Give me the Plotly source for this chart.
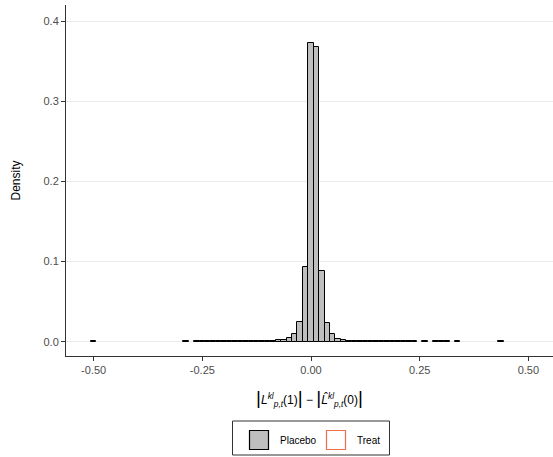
import plotly.graph_objects as go

# Histogram bins (bin width 0.0125) and relative frequencies
bin_centers = [-0.5, -0.2875,
               -0.2625, -0.25, -0.2375, -0.225, -0.2125, -0.2, -0.1875, -0.175, -0.1625, -0.15,
               -0.1375, -0.125, -0.1125, -0.1, -0.0875, -0.075, -0.0625, -0.05, -0.0375, -0.025,
               -0.0125, 0.0, 0.0125, 0.025, 0.0375, 0.05, 0.0625, 0.075, 0.0875, 0.1,
               0.1125, 0.125, 0.1375, 0.15, 0.1625, 0.175, 0.1875, 0.2, 0.2125, 0.225, 0.2375,
               0.2625, 0.2875, 0.3, 0.3125, 0.3375, 0.4375]
placebo_density = [0.0003, 0.0003,
                   0.0003, 0.0003, 0.0003, 0.0003, 0.0004, 0.0004, 0.0004, 0.0004, 0.0005, 0.0005,
                   0.0006, 0.0006, 0.0007, 0.0008, 0.0011, 0.0016, 0.0026, 0.0042, 0.0096, 0.024,
                   0.093, 0.373, 0.367, 0.088, 0.023, 0.0092, 0.0031, 0.0018, 0.0012, 0.0009,
                   0.0008, 0.0007, 0.0006, 0.0006, 0.0005, 0.0005, 0.0004, 0.0004, 0.0004, 0.0003, 0.0003,
                   0.0003, 0.0003, 0.0003, 0.0003, 0.0003, 0.0003]
treat_centers = []
treat_density = []
bin_width = 0.0125

series_names = ["Placebo", "Treat"]
x_ticks = [-0.5, -0.25, 0.0, 0.25, 0.5]
x_tick_labels = ["-0.50", "-0.25", "0.00", "0.25", "0.50"]
y_ticks = [0.0, 0.1, 0.2, 0.3, 0.4]
y_tick_labels = ["0.0", "0.1", "0.2", "0.3", "0.4"]

FILL = "#bebebe"
TREAT = "#f26b4f"
FONT = "Liberation Sans, Arial, sans-serif"

fig = go.Figure()
fig.add_trace(go.Bar(x=bin_centers, y=placebo_density, width=bin_width, name=series_names[0],
                     marker=dict(color=FILL, line=dict(color="black", width=1)),
                     showlegend=False))
fig.add_trace(go.Bar(x=treat_centers, y=treat_density, width=bin_width, name=series_names[1],
                     marker=dict(color="rgba(0,0,0,0)", line=dict(color=TREAT, width=1)),
                     showlegend=False))

L, R, T, B = 66, 0, 5, 101
W, H = 553, 457
pw, ph = W - L - R, H - T - B

def px_x(p):
    return (p - L) / pw

def px_y(p):
    return (H - B - p) / ph

shapes = []
annotations = []
# manual legend box
shapes.append(dict(type="rect", xref="paper", yref="paper",
                   x0=px_x(232.5), x1=px_x(389.5), y0=px_y(455), y1=px_y(421),
                   line=dict(color="#333333", width=1), fillcolor="white"))
shapes.append(dict(type="rect", xref="paper", yref="paper",
                   x0=px_x(249.5), x1=px_x(268.5), y0=px_y(449.5), y1=px_y(430.5),
                   line=dict(color="black", width=1.2), fillcolor=FILL))
shapes.append(dict(type="rect", xref="paper", yref="paper",
                   x0=px_x(326.5), x1=px_x(345.5), y0=px_y(449.5), y1=px_y(430.5),
                   line=dict(color=TREAT, width=1.2), fillcolor="white"))
annotations.append(dict(text=series_names[0], xref="paper", yref="paper", x=px_x(277.5), y=px_y(441),
                        xanchor="left", yanchor="middle", showarrow=False,
                        font=dict(family=FONT, size=10, color="black")))
annotations.append(dict(text=series_names[1], xref="paper", yref="paper", x=px_x(354.5), y=px_y(441),
                        xanchor="left", yanchor="middle", showarrow=False,
                        font=dict(family=FONT, size=10, color="black")))

big = '<span style="font-size:19px">|</span>'
xtitle = (big + "<i>L</i><sup><i>kl</i></sup><sub><i>p,t</i></sub>(1)" + big + " − " + big +
          "<i>L̂</i><sup><i>kl</i></sup><sub><i>p,t</i></sub>(0)" + big)

fig.update_layout(
    width=W, height=H,
    margin=dict(l=L, r=R, t=T, b=B, pad=0),
    plot_bgcolor="white", paper_bgcolor="white",
    bargap=0, barmode="overlay",
    font=dict(family=FONT, color="#4d4d4d"),
    shapes=shapes, annotations=annotations,
    xaxis=dict(range=[-0.5636, 0.5567], tickvals=x_ticks, ticktext=x_tick_labels,
               showgrid=False, zeroline=False, showline=True, linecolor="#333333", linewidth=1,
               ticks="outside", ticklen=4, tickcolor="#333333", tickwidth=1,
               tickfont=dict(size=11, color="#4d4d4d", family=FONT),
               title=dict(text=xtitle, font=dict(size=12, color="black", family=FONT), standoff=20)),
    yaxis=dict(range=[-0.0178, 0.42], tickvals=y_ticks, ticktext=y_tick_labels,
               showgrid=True, gridcolor="#ebebeb", gridwidth=1, zeroline=False,
               showline=True, linecolor="#333333", linewidth=1,
               ticks="outside", ticklen=4, tickcolor="#333333", tickwidth=1,
               tickfont=dict(size=11, color="#4d4d4d", family=FONT),
               title=dict(text="Density", font=dict(size=12, color="black", family=FONT), standoff=20)),
)

fig.write_html("out.html")
